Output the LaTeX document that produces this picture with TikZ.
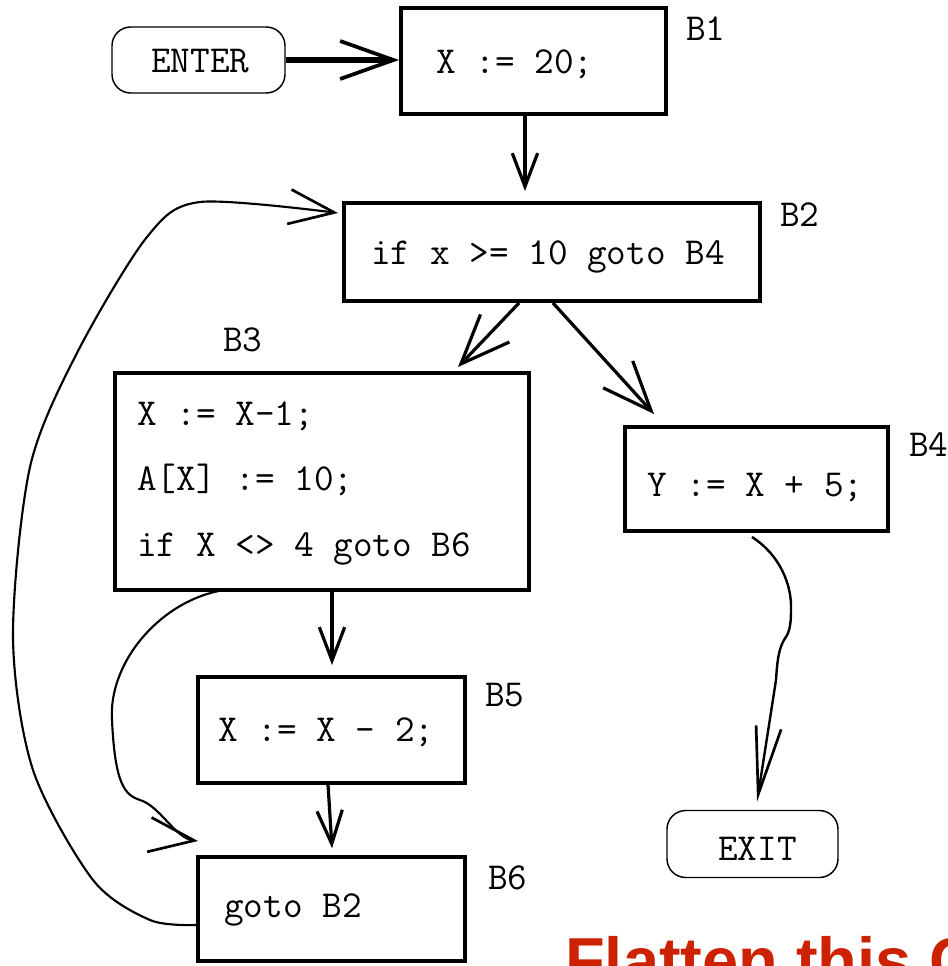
\documentclass[tikz,border=0pt]{standalone}
\usepackage{graphicx}
\usepackage{fontspec}
\setmainfont{Liberation Serif}
\newfontfamily\redfont{Liberation Sans}
\usetikzlibrary{arrows.meta}
\definecolor{flatred}{RGB}{204,34,0}
\newcommand{\cdtxt}[1]{#1}
\tikzset{
  blk/.style={draw, line width=3pt, rectangle, inner sep=0pt},
  term/.style={draw, line width=1.1pt, rounded corners=14pt, inner sep=0pt},
  code/.style={anchor=base west, inner sep=0pt, font=\ttfamily\fontsize{28.6pt}{31pt}\selectfont},
  thickarrow/.style={line width=4pt, -{Straight Barb[length=40pt,width=28.5pt,line width=2.8pt]}},
  edge/.style={line width=2.4pt, -{Straight Barb[length=25pt,width=19pt]}},
  diag/.style={line width=2.4pt, -{Straight Barb[length=37pt,width=30pt]}},
  curve/.style={line width=1.6pt, -{Straight Barb[length=34pt,width=26pt,line width=2pt]}},
  longcurve/.style={line width=1.8pt, -{Straight Barb[length=51pt,width=19pt,line width=2pt]}},
}
\begin{document}
\begin{tikzpicture}[x=0.75pt,y=-0.75pt]
\useasboundingbox (0,0) rectangle (948,966);
\clip (0,0) rectangle (948,966);

% terminals
\node[term, minimum width=129.75pt, minimum height=49.5pt] (enter) at (198.5,60) {};
\node[code] (tenter) at (151,73) {\cdtxt{ENTER}};
\node[term, minimum width=128.25pt, minimum height=50.25pt] (exit) at (752.5,844) {};
\node[code] (texit) at (718,860) {\cdtxt{EXIT}};

% blocks
\node[blk, minimum width=198.75pt, minimum height=79.5pt] (b1) at (533.5,61) {};
\node[code] (t1) at (436,74) {\cdtxt{X := 20;}};
\node[code] (l1) at (686,41) {\cdtxt{B1}};

\node[blk, minimum width=312pt, minimum height=73.5pt] (b2) at (552,252) {};
\node[code] (t2) at (371,264) {\cdtxt{if x >= 10 goto B4}};
\node[code] (l2) at (780,226) {\cdtxt{B2}};

\node[blk, minimum width=310.5pt, minimum height=162.75pt] (b3) at (322,481.5) {};
\node[code] (t3a) at (137,425) {\cdtxt{X := X-1;}};
\node[code] (t3b) at (137,490) {\cdtxt{A[X] := 10;}};
\node[code] (t3c) at (137,556) {\cdtxt{if X <> 4 goto B6}};
\node[code] (l3) at (223,351) {\cdtxt{B3}};

\node[blk, minimum width=197.25pt, minimum height=78pt] (b4) at (756.5,479) {};
\node[code] (t4) at (647,496) {\cdtxt{Y := X + 5;}};
\node[code] (l4) at (909,456) {\cdtxt{B4}};

\node[blk, minimum width=200.25pt, minimum height=79.5pt] (b5) at (331.5,730) {};
\node[code] (t5) at (218,741) {\cdtxt{X := X - 2;}};
\node[code] (l5) at (485,706) {\cdtxt{B5}};

\node[blk, minimum width=200.25pt, minimum height=78pt] (b6) at (331.5,909) {};
\node[code] (t6) at (224,917) {\cdtxt{goto B2}};
\node[code] (l6) at (488,889) {\cdtxt{B6}};

% straight connectors
\draw[thickarrow] (enter.east) -- (enter.east -| b1.west);
\draw[edge, shorten >=7.5pt] ([xshift=-6.4pt]b1.south) -- ([xshift=-6.4pt]b1.south |- b2.north);
\draw[diag] ([xshift=-24.75pt]b2.south) -- ([xshift=102pt,yshift=3pt]b3.north);
\draw[diag] ([xshift=0.75pt]b2.south) -- ([xshift=-76.9pt,yshift=8.25pt]b4.north);
\draw[edge, shorten >=7.5pt] ([xshift=7.5pt]b3.south) -- ([xshift=7.5pt]b3.south |- b5.north);
\draw[edge] ([xshift=-2.6pt]b5.south) -- ([xshift=0.4pt,yshift=5pt]b6.north);

% curved connectors
\coordinate (b3out) at ([xshift=-67.5pt,yshift=2.25pt]b3.south);
\coordinate (b6in) at ([xshift=1.5pt,yshift=10.5pt]b6.north west);
\draw[curve] (b3out) .. controls (165,595) and (108,660) .. (112,720)
  .. controls (115,785) and (125,795) .. (140,800)
  .. controls (160,806) and (175,838) .. (b6in);

\coordinate (b6out) at ([yshift=-12pt]b6.west);
\coordinate (b2in) at ([xshift=-3pt,yshift=29.25pt]b2.west);
\draw[curve] plot[smooth, tension=0.5] coordinates {(b6out) (150,920) (93,880) (33,770) (13,637) (30,467) (77,353) (147,237) (200,202) (b2in)};

\coordinate (b4out) at ([xshift=-3.4pt,yshift=-3pt]b4.south);
\coordinate (exitin) at ([xshift=3.4pt,yshift=6pt]exit.north);
\draw[longcurve] (b4out) .. controls (780,555) and (792,585) .. (791,610)
  .. controls (791,630) and (788,634) .. (784,640)
  .. controls (778,650) and (777,665) .. (776,680) -- (exitin);

% red title (cut off at the bottom, as in the reference)
\node[anchor=base west, inner sep=0pt, text=flatred, font=\redfont\bfseries\fontsize{48.75pt}{55pt}\selectfont] (title) at (565,983.5) {Flatten this C};
\end{tikzpicture}
\end{document}
